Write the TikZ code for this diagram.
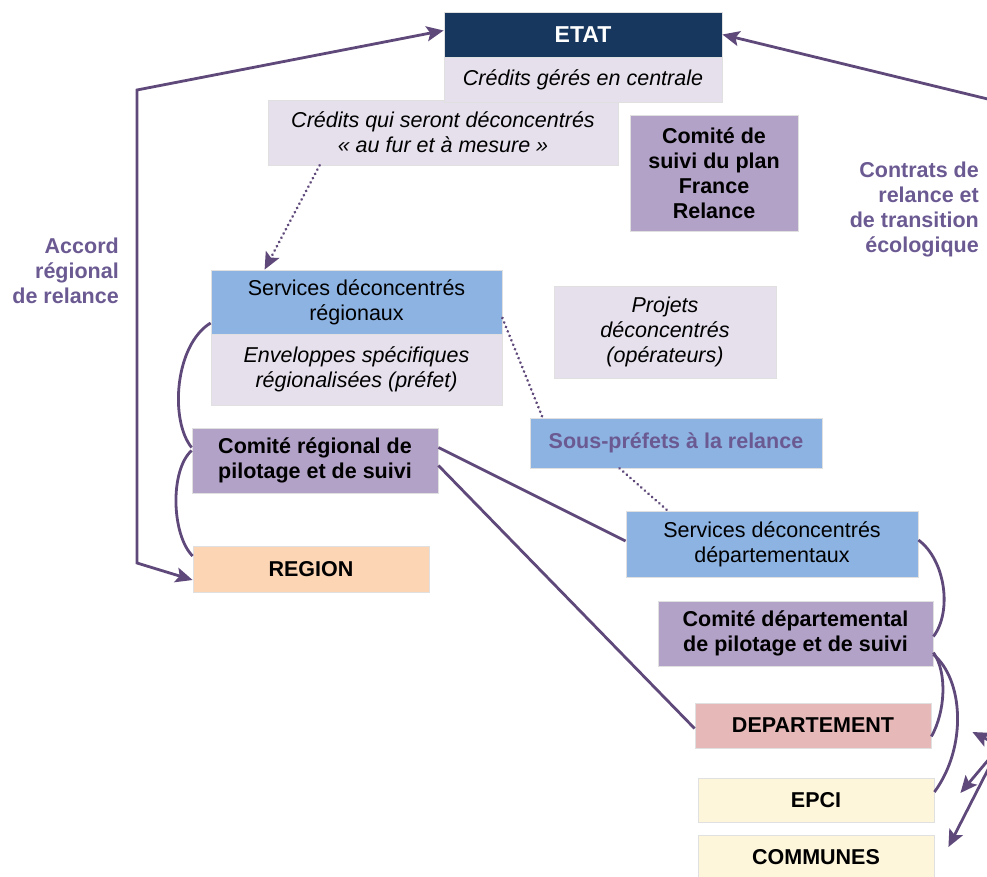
\documentclass[tikz,border=0pt]{standalone}
\usepackage{fontspec}
\setmainfont{Liberation Sans}
\usetikzlibrary{arrows.meta,calc}

\definecolor{etatnavy}{HTML}{17375E}
\definecolor{lavender}{HTML}{E6E0EC}
\definecolor{lilac}{HTML}{B3A2C7}
\definecolor{skyblue}{HTML}{8DB3E2}
\definecolor{peach}{HTML}{FCD5B5}
\definecolor{rosy}{HTML}{E6B9B8}
\definecolor{cream}{HTML}{FDF6DA}
\definecolor{linkpurple}{HTML}{5F497A}
\definecolor{labelpurple}{HTML}{6B5A92}

\newcommand\boxfont{\fontsize{21.5}{25}\selectfont}

\tikzset{
  box/.style={draw=black!12, line width=0.8pt, inner sep=2pt, align=center, font=\boxfont},
  credit/.style={box, fill=lavender, font=\boxfont\itshape},
  comite/.style={box, fill=lilac, font=\boxfont\bfseries},
  service/.style={box, fill=skyblue},
  collect/.style={box, font=\boxfont\bfseries},
  tag/.style={inner sep=0pt, align=right, text=labelpurple, font=\boxfont\bfseries},
  link/.style={draw=linkpurple, line width=2.8pt},
  dots/.style={draw=linkpurple, line width=3pt, line cap=round, dash pattern=on 0.01pt off 4.8pt},
  tip/.tip={Stealth[length=17pt,width=15pt,inset=3.5pt]}
}

\begin{document}
\begin{tikzpicture}[x=1pt,y=-1pt]
  \useasboundingbox (0,0) rectangle (987,877);
  \clip (0,0) rectangle (987,877);

  \node[credit, minimum width=350pt, minimum height=65pt] (decon) at (443,132.5)
    {Crédits qui seront déconcentrés\\« au fur et à mesure »};
  \node[box, fill=etatnavy, text=white, font=\fontsize{23}{26}\selectfont\bfseries,
    minimum width=278pt, minimum height=45pt] (etat) at (583,34.5) {ETAT};
  \node[credit, minimum width=278pt, minimum height=45pt] (centrale) at (583,79.5)
    {Crédits gérés en centrale};
  \node[comite, minimum width=168pt, minimum height=116pt] (suivi) at (714,173)
    {Comité de\\suivi du plan\\France\\Relance};

  \node[service, minimum width=291pt, minimum height=64pt] (sdr) at (356.5,302)
    {Services déconcentrés\\régionaux};
  \node[credit, minimum width=291pt, minimum height=71pt] (env) at (356.5,369.5)
    {Enveloppes spécifiques\\régionalisées (préfet)};
  \node[credit, minimum width=222pt, minimum height=92pt] (projets) at (665,332)
    {Projets\\déconcentrés\\(opérateurs)};
  \node[service, text=labelpurple, font=\boxfont\bfseries,
    minimum width=292pt, minimum height=50pt] (sousprefets) at (676,443)
    {Sous-préfets à la relance};
  \node[comite, minimum width=246pt, minimum height=65pt] (crps) at (315,460.5)
    {Comité régional de\\pilotage et de suivi};
  \node[collect, fill=peach, minimum width=236pt, minimum height=46pt] (region) at (311,569) {REGION};

  \node[service, minimum width=292pt, minimum height=66pt] (sdd) at (772,544)
    {Services déconcentrés\\départementaux};
  \node[comite, minimum width=275pt, minimum height=65pt] (cdps) at (795.5,633.5)
    {Comité départemental\\de pilotage et de suivi};
  \node[collect, fill=rosy, minimum width=236pt, minimum height=45pt] (dept) at (813,725.5) {DEPARTEMENT};
  \node[collect, fill=cream, minimum width=236pt, minimum height=44pt] (epci) at (816,800) {EPCI};
  \node[collect, fill=cream, minimum width=236pt, minimum height=45pt] (communes) at (816,857.5) {COMMUNES};

  \node[tag, anchor=north east] (accord) at (119,238) {Accord\\régional\\de relance};
  \node[tag, anchor=north east] (contrats) at (979,162) {Contrats de\\relance et\\de transition\\écologique};

  \coordinate (accB) at (137,563);
  \coordinate (accT) at (137,90);
  \coordinate (ctrT) at (1000,102);
  \coordinate (ctrB) at (1000,746);

  \draw[link, tip-tip] ([yshift=-11pt]region.west) -- (accB) -- (accT) -- ([yshift=4pt]etat.west);
  \draw[link, -tip] (ctrT) -- (etat.east);
  \draw[link, -tip] (ctrB) -- ($(dept.east)+(41,6.5)$);
  \draw[link, -tip] (ctrB) -- ($(epci.east)+(26,-7)$);
  \draw[link, -tip] (ctrB) -- ($(communes.east)+(14,-10.5)$);

  \draw[dots, -tip] ($(decon.south west)+(52,0)$) -- ($(sdr.north west)+(54,0)$);
  \draw[dots] ([yshift=-16pt]sdr.east) -- ($(sousprefets.north west)+(13,0)$);
  \draw[dots] ($(sousprefets.south west)+(90,0)$) -- ($(sdd.north west)+(42,0)$);

  \draw[link] ([yshift=-21pt]sdr.west) .. controls +(-36,22) and +(-22,-27) .. ([yshift=13pt]crps.west);
  \draw[link] ([yshift=10pt]crps.west) .. controls +(-22,20) and +(-21,-21) .. ([yshift=13pt]region.west);
  \draw[link] ([yshift=13pt]crps.east) -- ([yshift=3pt]sdd.west);
  \draw[link] ([yshift=-5pt]crps.east) -- ([yshift=-3pt]dept.west);

  \draw[link] ([yshift=4pt]sdd.east) .. controls +(27,20) and +(19,-25) .. ([yshift=-3pt]cdps.east);
  \draw[link] ([yshift=-19pt]cdps.east) .. controls +(14,20) and +(14,-25) .. ([yshift=-11pt]dept.east);
  \draw[link] ([yshift=-21pt]cdps.east) .. controls +(30,25) and +(33,-45) .. ([yshift=8pt]epci.east);
\end{tikzpicture}
\end{document}
